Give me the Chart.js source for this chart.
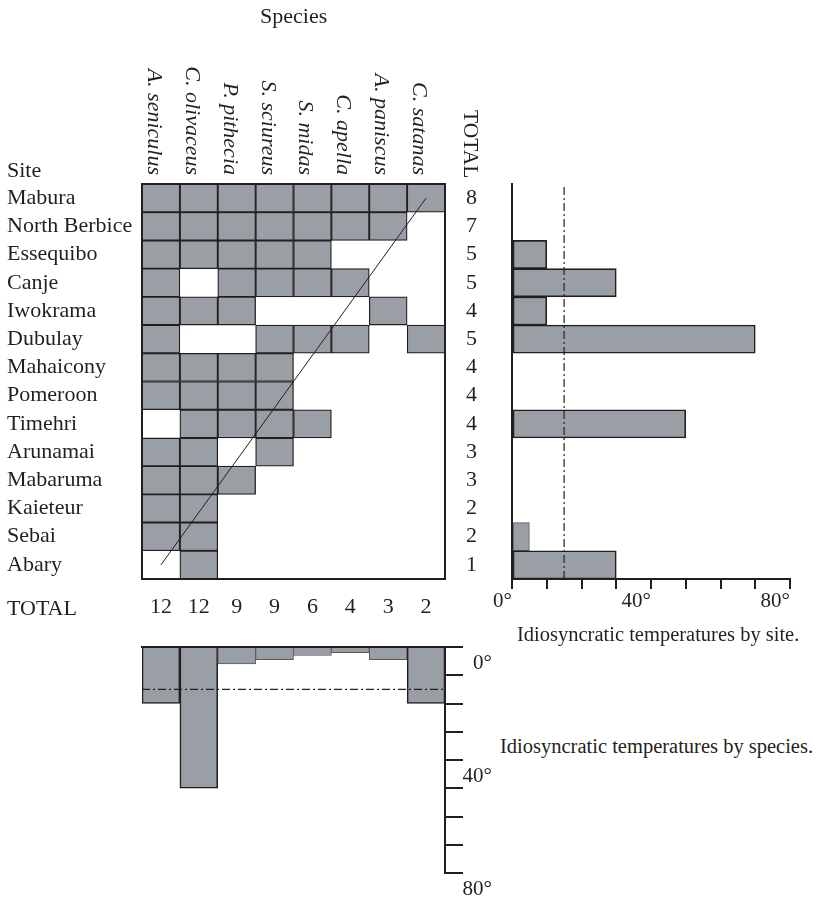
<!DOCTYPE html>
<html><head><meta charset="utf-8">
<script src="https://cdn.jsdelivr.net/npm/chart.js@4/dist/chart.umd.min.js"></script>
<style>
html,body{margin:0;padding:0;background:#fff;overflow:hidden;}
#wrap{position:relative;width:817px;height:899px;font-family:"Liberation Serif","Times New Roman",serif;color:#231f20;}
canvas{position:absolute;}
.t{position:absolute;font-size:21px;line-height:21px;white-space:nowrap;}
.cap{font-size:20.5px;}
</style></head><body>
<div id="wrap">
<canvas id="cA" style="left:0px;top:0px" width="500" height="640"></canvas>
<canvas id="cB" style="left:480px;top:150px" width="337" height="470"></canvas>
<canvas id="cC" style="left:100px;top:600px" width="400" height="299"></canvas>
<div class="t" style="left:260px;top:5px;font-size:22px">Species</div>
<div class="t" style="left:7px;top:159px;font-size:22px">Site</div>
<div class="t" style="left:7px;top:597px;font-size:22px">TOTAL</div>
<div class="t" style="left:481px;top:110px;font-size:21.5px;transform:rotate(90deg);transform-origin:0 0">TOTAL</div>
<div class="t cap" style="left:517px;top:624px">Idiosyncratic temperatures by site.</div>
<div class="t cap" style="left:500px;top:736px">Idiosyncratic temperatures by species.</div>
</div>
<script>
const sites = ['Mabura','North Berbice','Essequibo','Canje','Iwokrama','Dubulay','Mahaicony','Pomeroon','Timehri','Arunamai','Mabaruma','Kaieteur','Sebai','Abary'];
const species = ['A. seniculus','C. olivaceus','P. pithecia','S. sciureus','S. midas','C. apella','A. paniscus','C. satanas'];
const presence = [
  [1,1,1,1,1,1,1,1],
  [1,1,1,1,1,1,1,0],
  [1,1,1,1,1,0,0,0],
  [1,0,1,1,1,1,0,0],
  [1,1,1,0,0,0,1,0],
  [1,0,0,1,1,1,0,1],
  [1,1,1,1,0,0,0,0],
  [1,1,1,1,0,0,0,0],
  [0,1,1,1,1,0,0,0],
  [1,1,0,1,0,0,0,0],
  [1,1,1,0,0,0,0,0],
  [1,1,0,0,0,0,0,0],
  [1,1,0,0,0,0,0,0],
  [0,1,0,0,0,0,0,0]
];
const siteTotals = [8,7,5,5,4,5,4,4,4,3,3,2,2,1];
const speciesTotals = [12,12,9,9,6,4,3,2];
const siteTemps = [0,0,10,30,10,70,0,0,50,0,0,0,5,30];
const speciesTemps = [20,50,6,4.5,3,2,4.5,20];
const tempThreshold = 15;
const tempTickLabels = [0,40,80];
const diagonalX = [0.5, 7.5];
const diagonalY = [13.5, 0.5];

const INK = '#231f20', GREY = '#9a9fa6', THIN = '#58595b';
const FONT = '"Liberation Serif", "Times New Roman", serif';
Chart.defaults.font.family = FONT;
Chart.defaults.font.size = 21;
Chart.defaults.color = INK;
Chart.defaults.animation = false;
Chart.defaults.plugins.legend.display = false;
Chart.defaults.plugins.tooltip.enabled = false;
const frame = {display:true, color:INK, width:2, z:1};

const speciesLabelPlugin = {
  id: 'speciesLabels',
  afterDraw(chart) {
    const sx = chart.scales.x, ctx = chart.ctx, top = chart.chartArea.top;
    ctx.save();
    ctx.fillStyle = INK;
    ctx.font = 'italic 22px ' + FONT;
    ctx.textAlign = 'right';
    ctx.textBaseline = 'alphabetic';
    species.forEach((s, j) => {
      const x = sx.getPixelForValue(j + 0.5);
      ctx.save();
      ctx.translate(x - 13, top - 9);
      ctx.rotate(Math.PI / 2);
      ctx.fillText(s, 0, 0);
      ctx.restore();
    });
    ctx.restore();
  }
};

const cellDatasets = species.map((sp, j) => ({
  type: 'bar', label: sp, indexAxis: 'y', xAxisID: 'x', yAxisID: 'y', grouped: false,
  data: presence.map(row => row[j] ? [j, j + 1] : null),
  backgroundColor: GREY, borderColor: INK, borderWidth: 1.3, borderSkipped: false,
  barPercentage: 1, categoryPercentage: 1, order: 1
}));

new Chart(document.getElementById('cA'), {
  type: 'bar',
  data: {
    labels: sites,
    datasets: [
      {type:'line', xAxisID:'x', yAxisID:'yd', data: diagonalX.map((x, i) => ({x, y: diagonalY[i]})),
       borderColor: INK, borderWidth: 1, pointRadius: 0, fill: false, order: 0},
      ...cellDatasets
    ]
  },
  options: {
    responsive: false, animation: false, events: [],
    layout: {padding: {left: 7, top: 184, right: 0, bottom: 0}},
    scales: {
      x: {type:'linear', position:'bottom', min:0, max:8, offset:false,
          grid:{display:false, drawTicks:false, offset:false}, border: frame,
          afterBuildTicks: s => { s.ticks = speciesTotals.map((_, i) => ({value: i + 0.5})); },
          ticks:{autoSkip:false, maxRotation:0, padding:15, font:{size:22}, callback: (v, i) => String(speciesTotals[i])},
          afterFit: s => { s.height = 61; }},
      x2: {type:'linear', position:'top', min:0, max:8, offset:false, ticks:{display:false},
           grid:{display:false, drawTicks:false, offset:false}, border: frame, afterFit: s => { s.height = 0; }},
      y: {type:'category', position:'left', offset:true, grid:{display:false, drawTicks:false}, border: frame,
          ticks:{crossAlign:'far', padding:0, autoSkip:false, font:{size:22}},
          afterFit: s => { s.width = 135; }},
      y2: {type:'category', position:'right', labels: siteTotals.map(String), offset:true,
           grid:{display:false, drawTicks:false}, border: frame,
           ticks:{crossAlign:'near', padding:21, autoSkip:false, font:{size:22}},
           afterFit: s => { s.width = 55; }},
      yd: {type:'linear', display:false, min:0, max:14, reverse:true, offset:false}
    }
  },
  plugins: [speciesLabelPlugin]
});

new Chart(document.getElementById('cB'), {
  type: 'bar',
  data: {
    labels: sites,
    datasets: [
      {type:'line', xAxisID:'x', yAxisID:'yl', data:[{x:tempThreshold, y:0}, {x:tempThreshold, y:1}],
       borderColor: INK, borderWidth: 1.2, borderDash:[8,3,2,3], pointRadius:0, fill:false, order:0},
      {type:'bar', indexAxis:'y', xAxisID:'x', yAxisID:'y', data: siteTemps, grouped: false,
       backgroundColor: GREY,
       borderColor: c => (c.raw >= 8 ? INK : THIN),
       borderWidth: c => (c.raw >= 8 ? 1.6 : 1),
       borderSkipped: false,
       barPercentage: 1, categoryPercentage: 1, order: 1}
    ]
  },
  options: {
    responsive: false, animation: false, events: [],
    layout: {padding: {left: 32, top: 34, right: 27, bottom: 0}},
    scales: {
      x: {type:'linear', position:'bottom', min:0, max:80, offset:false,
          grid:{display:true, offset:false, drawOnChartArea:false, drawTicks:true, tickLength:10, color:INK, lineWidth:2},
          border: frame,
          ticks:{stepSize:10, autoSkip:false, maxRotation:0, align:'end', padding:0,
                 callback: v => (tempTickLabels.includes(v) ? v + '°' : '')},
          afterFit: s => { s.height = 41; }},
      y: {type:'category', position:'left', offset:true, grid:{display:false, drawTicks:false},
          ticks:{display:false}, border: frame, afterFit: s => { s.width = 0; }},
      yl: {type:'linear', display:false, min:0, max:1, offset:false}
    }
  }
});

new Chart(document.getElementById('cC'), {
  type: 'bar',
  data: {
    labels: species,
    datasets: [
      {type:'line', xAxisID:'xl', yAxisID:'y', data:[{x:0, y:tempThreshold}, {x:1, y:tempThreshold}],
       borderColor: INK, borderWidth: 1.2, borderDash:[8,3,2,3], pointRadius:0, fill:false, order:0},
      {type:'bar', xAxisID:'x', yAxisID:'y', data: speciesTemps, grouped: false,
       backgroundColor: GREY,
       borderColor: c => (c.raw >= 10 ? INK : THIN),
       borderWidth: c => (c.raw >= 10 ? 1.6 : 1),
       barPercentage: 1, categoryPercentage: 1, order: 1}
    ]
  },
  options: {
    responsive: false, animation: false, events: [],
    layout: {padding: {left: 42, top: 47, right: 8, bottom: 26}},
    scales: {
      x: {type:'category', position:'top', offset:true, grid:{display:false, drawTicks:false},
          ticks:{display:false}, border: frame, afterFit: s => { s.height = 0; }},
      xl: {type:'linear', display:false, min:0, max:1, offset:false},
      y: {type:'linear', position:'right', reverse:true, min:0, max:80, offset:false,
          grid:{display:true, offset:false, drawOnChartArea:false, drawTicks:true, tickLength:18, color:INK, lineWidth:2},
          border: frame,
          ticks:{stepSize:10, autoSkip:false, crossAlign:'far', padding:0,
                 font:{size:21, lineHeight:1.55},
                 callback: v => (tempTickLabels.includes(v) ? ['', v + '°'] : '')},
          afterFit: s => { s.width = 47; s.paddingTop = 0; s.paddingBottom = 0; }}
    }
  }
});
</script>
</body></html>
